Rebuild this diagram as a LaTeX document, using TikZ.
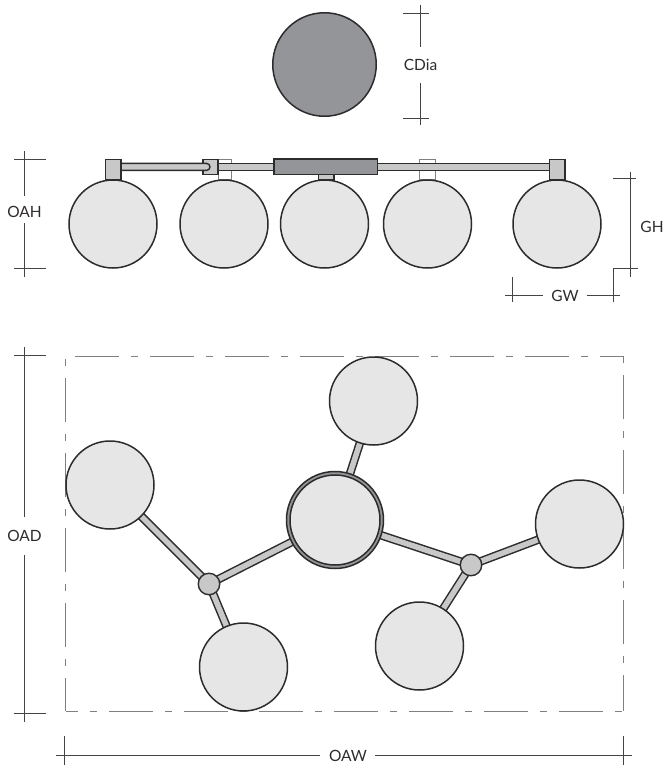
\documentclass[tikz,border=0pt]{standalone}
\usepackage{fontspec}
\setmainfont{Lato}
\usetikzlibrary{backgrounds}
\definecolor{ink}{HTML}{2E2B2C}
\definecolor{ball}{HTML}{E6E6E6}
\definecolor{rodc}{HTML}{C8C8C8}
\definecolor{darkc}{HTML}{939598}
\definecolor{dimc}{HTML}{444444}
\tikzset{
  x=1pt,y=-1pt,
  globe/.style={circle,draw=ink,line width=1.5pt,fill=ball,minimum size=88pt,inner sep=0pt,outer sep=0pt},
  canopy/.style={circle,draw=ink,line width=1.5pt,fill=darkc,minimum size=103.5pt,inner sep=0pt},
  ringglobe/.style={circle,draw=ink,line width=1.5pt,fill=darkc,minimum size=97pt,inner sep=0pt,outer sep=0pt},
  joint/.style={circle,draw=ink,line width=1.4pt,fill=rodc,minimum size=21.5pt,inner sep=0pt,outer sep=0pt},
  rod/.style={draw=ink,line width=1.5pt,double=rodc,double distance=5.5pt,shorten <=-2pt,shorten >=-2pt},
  part/.style={draw=ink,line width=1.4pt,fill=rodc},
  darkpart/.style={draw=ink,line width=1.5pt,fill=darkc},
  ghost/.style={draw=gray,line width=0.8pt,fill=white},
  dimline/.style={draw=dimc,line width=0.9pt},
  outline/.style={draw=gray,line width=0.9pt,dash pattern=on 44pt off 12pt on 7pt off 12pt},
  dimlabel/.style={font=\fontsize{15.5}{15.5}\selectfont,text=ink,inner sep=0pt}
}
\begin{document}
\begin{tikzpicture}
\useasboundingbox (0,0) rectangle (663,766);
% canopy
\node[canopy] (can) at (324.5,64.5) {};
\coordinate (ca) at (420,5); \coordinate (cb) at (420,47);
\coordinate (cc) at (420,83); \coordinate (cd) at (420,125);
\coordinate (ce) at (403,13); \coordinate (cf) at (429,13);
\coordinate (cg) at (403,118); \coordinate (ch) at (429,118);
\draw[dimline] (ca)--(cb) (cc)--(cd) (ce)--(cf) (cg)--(ch);
\node[dimlabel] (cdia) at (420.5,65) {CDia};
% elevation: back parts
\draw[ghost] (218,158.9) rectangle (231.3,179.3);
\draw[ghost] (419.7,158.9) rectangle (435.7,179.3);
\draw[part] (318.3,172) rectangle (334,180);
\draw[part] (218,163.4) rectangle (552,170.4);
\draw[part] (202.8,159.2) rectangle (218,174.6);
\draw[part] (121,163.4) -- (206.5,163.4) arc[start angle=-90,end angle=90,radius=3.5] -- (121,170.4) -- cycle;
\draw[darkpart] (274.2,159.2) rectangle (377.6,174.6);
\draw[part] (105.2,159.2) rectangle (120.8,179.5);
\draw[part] (549.4,159.2) rectangle (565,179.5);
\node[globe] (f1) at (113,224) {};
\node[globe] (f2) at (224,224) {};
\node[globe] (f3) at (324.5,224) {};
\node[globe] (f4) at (427.5,224) {};
\node[globe] (f5) at (557,224) {};
% elevation dimensions
\coordinate (ha) at (24,151); \coordinate (hb) at (24,196);
\coordinate (hc) at (24,223); \coordinate (hd) at (24,277);
\coordinate (he) at (14,159); \coordinate (hf) at (46,159);
\coordinate (hg) at (14,268); \coordinate (hh) at (46,268);
\draw[dimline] (ha)--(hb) (hc)--(hd) (he)--(hf) (hg)--(hh);
\node[dimlabel] (oah) at (24.5,212) {OAH};
\coordinate (ga) at (630,171.7); \coordinate (gb) at (630,276.7);
\coordinate (gc) at (613,178.7); \coordinate (gd) at (636,178.7);
\coordinate (ge) at (613,268); \coordinate (gf) at (637.7,268);
\coordinate (gg) at (613,302.3);
\coordinate (gi) at (512.7,277); \coordinate (gj) at (512.7,302.3);
\coordinate (gk) at (505,295); \coordinate (gl) at (543,295);
\coordinate (gm) at (586.7,295); \coordinate (gn) at (620,295);
\draw[dimline] (ga)--(gb) (gc)--(gd) (gf)--(ge)--(gg) (gi)--(gj) (gk)--(gl) (gm)--(gn);
\node[dimlabel] (gh) at (652,227) {GH};
\node[dimlabel] (gw) at (565,295.5) {GW};
% plan outline
\coordinate (ra) at (65.5,356); \coordinate (rb) at (623,356);
\coordinate (rc) at (623,711); \coordinate (rd) at (65.5,711);
\coordinate (re) at (75,356); \coordinate (rf) at (65.5,359);
\draw[outline] (re)--(rb);
\draw[outline,dash phase=32pt] (rd)--(rc);
\draw[outline,dash phase=56pt] (rf)--(rd);
\draw[outline,dash phase=56pt] (rb)--(rc);
% plan
\node[globe] (top) at (373.5,401) {};
\node[globe] (left) at (110,485) {};
\node[ringglobe] (mid) at (335,520) {};
\node[globe,minimum size=90pt] (midin) at (335,520) {};
\node[globe] (right) at (579.5,524) {};
\node[globe] (bl) at (243.5,667) {};
\node[globe] (br) at (419.5,646) {};
\node[joint] (j1) at (209,584) {};
\node[joint] (j2) at (471,565) {};
\begin{scope}[on background layer]
\draw[rod] (mid)--(top);
\draw[rod] (left)--(j1);
\draw[rod] (j1)--(bl);
\draw[rod] (j1)--(mid);
\draw[rod] (mid)--(j2);
\draw[rod] (j2)--(right);
\draw[rod] (j2)--(br);
\end{scope}
% plan dimensions
\coordinate (da) at (24,347); \coordinate (db) at (24,517);
\coordinate (dc) at (24,555); \coordinate (dd) at (24,722);
\coordinate (de) at (14,355.7); \coordinate (df) at (46,355.7);
\coordinate (dg) at (14,713); \coordinate (dh) at (46,713);
\draw[dimline] (da)--(db) (dc)--(dd) (de)--(df) (dg)--(dh);
\node[dimlabel] (oad) at (24.5,536) {OAD};
\coordinate (wa) at (64.6,736); \coordinate (wb) at (64.6,765);
\coordinate (wc) at (623.5,736); \coordinate (wd) at (623.5,765);
\coordinate (we) at (56,755); \coordinate (wf) at (320,755);
\coordinate (wg) at (375,755); \coordinate (wh) at (632,755);
\draw[dimline] (wa)--(wb) (wc)--(wd) (we)--(wf) (wg)--(wh);
\node[dimlabel] (oaw) at (348,755.5) {OAW};
\end{tikzpicture}
\end{document}
